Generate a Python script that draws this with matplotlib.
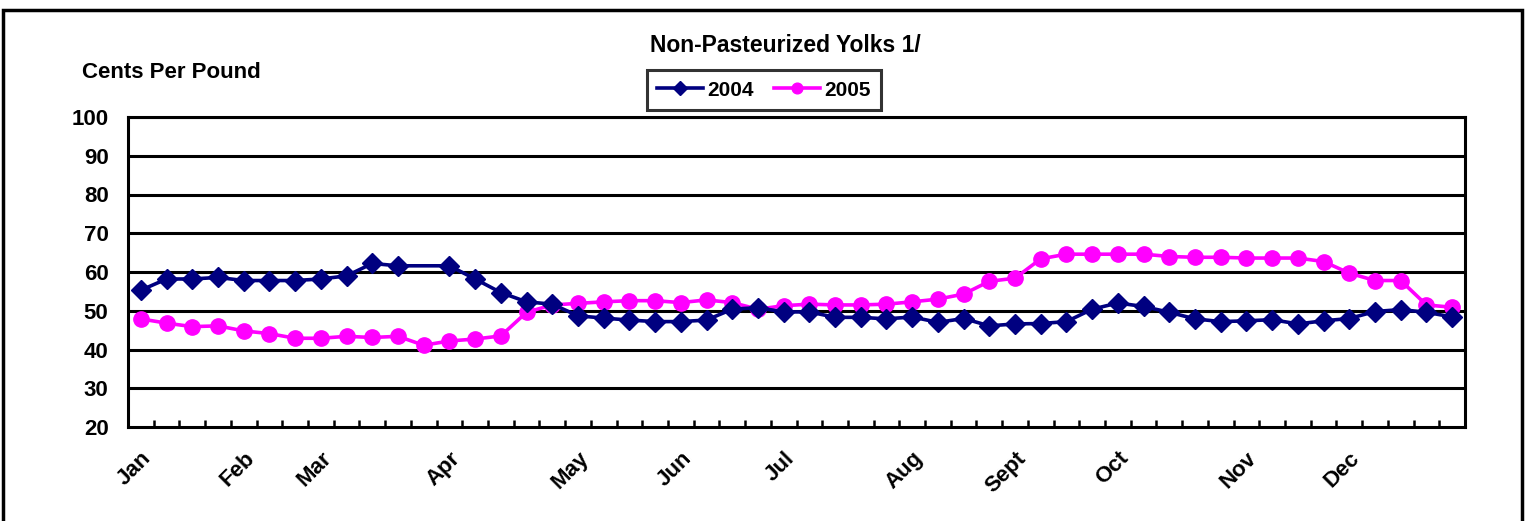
import numpy as np
import matplotlib
matplotlib.use("Agg")
import matplotlib.pyplot as plt
from matplotlib.patches import Rectangle

# weekly prices, cents per pound (52 weeks); nan = no report that week
yolks_2004 = [55.3, 58.2, 58.2, 58.6, 57.8, 57.8, 57.8, 58.2, 59.0, 62.2, 61.6, np.nan,
              61.6, 58.2, 54.7, 52.3, 51.7, 48.7, 48.1, 47.6, 47.2, 47.2, 47.6, 50.4,
              50.8, 49.7, 49.7, 48.3, 48.3, 47.9, 48.4, 47.0, 48.0, 46.1, 46.6, 46.7,
              47.2, 50.4, 52.0, 51.1, 49.6, 47.9, 47.2, 47.4, 47.7, 46.6, 47.4, 48.0,
              49.8, 50.3, 49.6, 48.4]
yolks_2005 = [47.9, 46.8, 45.9, 46.1, 44.8, 44.1, 42.9, 42.9, 43.4, 43.1, 43.4, 41.1,
              42.2, 42.7, 43.5, 49.6, 51.5, 51.9, 52.3, 52.6, 52.6, 52.1, 52.8, 52.1,
              50.4, 51.3, 51.7, 51.5, 51.5, 51.7, 52.3, 53.0, 54.3, 57.6, 58.4, 63.4,
              64.6, 64.6, 64.6, 64.6, 64.0, 63.8, 63.8, 63.6, 63.6, 63.6, 62.7, 59.7,
              57.8, 57.8, 51.5, 50.9]

week_labels = [''] * 52
for m, i in zip(['Jan', 'Feb', 'Mar', 'Apr', 'May', 'Jun', 'Jul', 'Aug',
                 'Sept', 'Oct', 'Nov', 'Dec'],
                [0, 4, 7, 12, 17, 21, 25, 30, 34, 38, 43, 47]):
    week_labels[i] = m

y_ticks = list(range(20, 101, 10))

plt.rcParams['font.family'] = ['Liberation Sans', 'DejaVu Sans']
plt.rcParams['font.weight'] = 'bold'

fig = plt.figure(figsize=(15.26, 5.21), dpi=100)
ax = fig.add_axes([128 / 1526, 94 / 521, 1337 / 1526, 310 / 521])

x = np.arange(len(week_labels))
s04 = np.array(yolks_2004, dtype=float)
s05 = np.array(yolks_2005, dtype=float)
ok = ~np.isnan(s04)

# Excel-style: line bridges the missing week
ax.plot(x[ok], s04[ok], color='#000080', lw=2.6, marker='D', ms=10, zorder=4, label='2004')
ax.plot(x, s05, color='#FF00FF', lw=2.6, marker='o', ms=11, zorder=3, label='2005')

ax.set_xlim(-0.5, len(week_labels) - 0.5)
ax.set_ylim(20, 100)
ax.set_yticks(y_ticks)
ax.set_yticklabels([str(v) for v in y_ticks], fontsize=16, fontweight='bold')
ax.tick_params(axis='y', length=0, pad=14)
for v in y_ticks[1:]:
    ax.axhline(v, color='black', lw=2.2, zorder=1)

ax.set_xticks(x)
ax.set_xticklabels(week_labels, rotation=45, ha='right', rotation_mode='anchor',
                   fontsize=16, fontweight='bold')
ax.tick_params(axis='x', length=0, pad=15)
ax.set_xticks(np.arange(-0.5, len(week_labels)), minor=True)
ax.tick_params(axis='x', which='minor', direction='in', length=5, width=1.8)

for sp in ax.spines.values():
    sp.set_linewidth(2.2)
    sp.set_color('black')

fig.text(785 / 1526, 1 - 45 / 521, 'Non-Pasteurized Yolks 1/', ha='center', va='center',
         fontsize=16.5, fontweight='bold')
fig.text(82 / 1526, 1 - 73 / 521, 'Cents Per Pound', ha='left', va='center',
         fontsize=16, fontweight='bold')

leg = ax.legend(loc='center', bbox_to_anchor=(764 / 1526, 1 - 90 / 521),
                bbox_transform=fig.transFigure, ncol=2, frameon=True, fancybox=False,
                prop={'size': 15, 'weight': 'bold'}, handlelength=2.2,
                handletextpad=0.2, columnspacing=1.0, borderpad=0.5, markerscale=0.7)
leg.get_frame().set_edgecolor('black')
leg.get_frame().set_linewidth(2.2)

# outer chart-area border (bottom runs off the picture)
fig.add_artist(Rectangle((3 / 1526, -0.05), 1519 / 1526, 1.05 - 10 / 521,
                         transform=fig.transFigure, fill=False, lw=2.5, ec='black'))

fig.savefig('out.png', dpi=100)
